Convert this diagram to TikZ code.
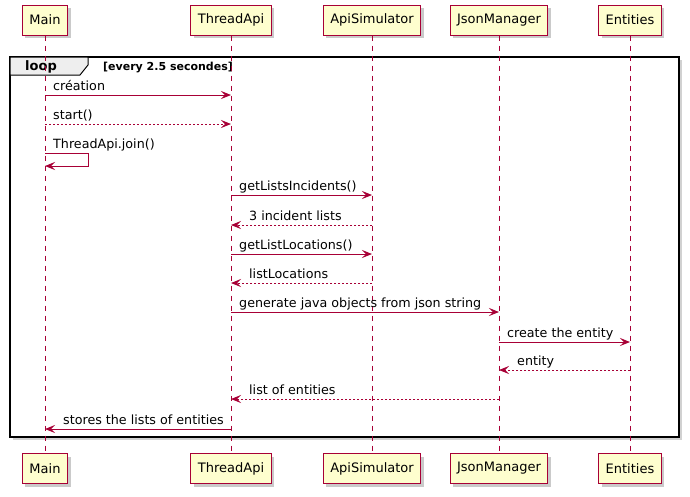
\documentclass[tikz,border=0pt]{standalone}
\usepackage{fontspec}
\setmainfont{DejaVu Sans}
\usetikzlibrary{arrows.meta,shadows}
\definecolor{umlred}{HTML}{A80036}
\definecolor{umlfill}{HTML}{FEFECE}
\definecolor{tabfill}{HTML}{EEEEEE}
\tikzset{
  part/.style={draw=umlred, fill=umlfill, line width=1pt, minimum height=30pt,
    inner xsep=7pt, inner ysep=0pt, font=\fontsize{13}{15}\selectfont,
    drop shadow={shadow xshift=3pt, shadow yshift=-3pt, fill=black!35, opacity=0.6}},
  lifeline/.style={draw=umlred, line width=0.8pt, dash pattern=on 5pt off 5pt},
  msg/.style={draw=umlred, line width=1pt, -{Stealth[length=10pt,width=8pt,inset=4pt]}},
  reply/.style={msg, dash pattern=on 2pt off 2pt},
  lbl/.style={anchor=base west, inner sep=0pt, font=\fontsize{12.7}{15}\selectfont},
}
\begin{document}
\begin{tikzpicture}[x=1pt,y=-1pt]
\useasboundingbox (0,0) rectangle (690,496);
% loop frame
\fill[black!30, opacity=0.6] (13,60) rectangle (682,440);
\draw[line width=1.5pt, fill=white] (10,57) rectangle (679,437);
\draw[line width=1pt, fill=tabfill] (10,57) -- (88,57) -- (88,65) -- (80,75) -- (10,75) -- cycle;
\node[anchor=base west, inner sep=0pt, font=\fontsize{13}{15}\selectfont\bfseries] (looplbl) at (25,70) {loop};
\node[anchor=base west, inner sep=0pt, font=\fontsize{11}{13}\selectfont\bfseries] (loopcond) at (103,70) {[every 2.5 secondes]};
% participants
\node[part] (mainT) at (45,20) {Main};
\node[part] (thrT) at (231,20) {ThreadApi};
\node[part] (apiT) at (372,20) {ApiSimulator};
\node[part] (jsonT) at (499,20) {JsonManager};
\node[part] (entT) at (630,20) {Entities};
\node[part] (mainB) at (45,468.5) {Main};
\node[part] (thrB) at (231,468.5) {ThreadApi};
\node[part] (apiB) at (372,468.5) {ApiSimulator};
\node[part] (jsonB) at (499,468.5) {JsonManager};
\node[part] (entB) at (630,468.5) {Entities};
% lifelines
\draw[lifeline] (mainT.south) -- (mainB.north);
\draw[lifeline] (thrT.south) -- (thrB.north);
\draw[lifeline] (apiT.south) -- (apiB.north);
\draw[lifeline] (jsonT.south) -- (jsonB.north);
\draw[lifeline] (entT.south) -- (entB.north);
% rows
\coordinate (r1) at (0,95);
\coordinate (r2) at (0,124);
\coordinate (r3a) at (0,153);
\coordinate (r3b) at (0,166);
\coordinate (selfx) at (88,0);
\coordinate (r4) at (0,195);
\coordinate (r5) at (0,225);
\coordinate (r6) at (0,254);
\coordinate (r7) at (0,283);
\coordinate (r8) at (0,312);
\coordinate (r9) at (0,342);
\coordinate (r10) at (0,370);
\coordinate (r11) at (0,399);
\coordinate (r12) at (0,429);
% messages
\draw[msg] (mainT |- r1) -- (thrT |- r1);
\node[lbl] (l1) at (53,90) {création};
\draw[reply] (mainT |- r2) -- (thrT |- r2);
\node[lbl] (l2) at (53,119) {start()};
\draw[msg] (mainT |- r3a) -- (selfx |- r3a) -- (selfx |- r3b) -- (mainT |- r3b);
\node[lbl] (l3) at (53,148) {ThreadApi.join()};
\draw[msg] (thrT |- r4) -- (apiT |- r4);
\node[lbl] (l4) at (239,190) {getListsIncidents()};
\draw[reply] (apiT |- r5) -- (thrT |- r5);
\node[lbl] (l5) at (249,220) {3 incident lists};
\draw[msg] (thrT |- r6) -- (apiT |- r6);
\node[lbl] (l6) at (239,249) {getListLocations()};
\draw[reply] (apiT |- r7) -- (thrT |- r7);
\node[lbl] (l7) at (249,278) {listLocations};
\draw[msg] (thrT |- r8) -- (jsonT |- r8);
\node[lbl] (l8) at (239,307) {generate java objects from json string};
\draw[msg] (jsonT |- r9) -- (entT |- r9);
\node[lbl] (l9) at (507,337) {create the entity};
\draw[reply] (entT |- r10) -- (jsonT |- r10);
\node[lbl] (l10) at (517,365) {entity};
\draw[reply] (jsonT |- r11) -- (thrT |- r11);
\node[lbl] (l11) at (249,394) {list of entities};
\draw[msg] (thrT |- r12) -- (mainT |- r12);
\node[lbl] (l12) at (63,424) {stores the lists of entities};
\end{tikzpicture}
\end{document}
